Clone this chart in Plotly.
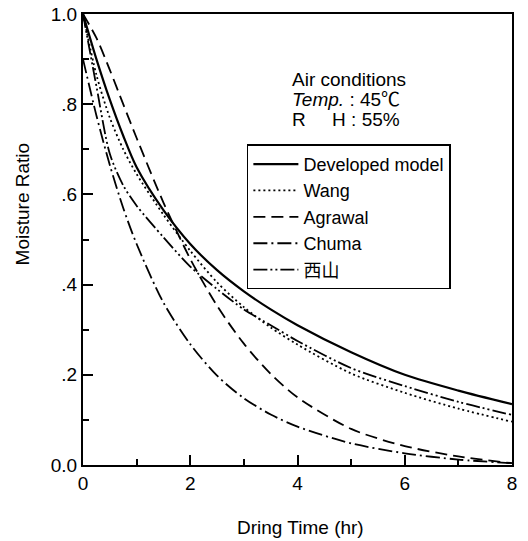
import plotly.graph_objects as go

# ---- data ----
time_hr = [0, 0.25, 0.5, 0.75, 1, 1.5, 2, 2.5, 3, 3.5, 4, 5, 6, 7, 8]
developed = [1.0, 0.90, 0.81, 0.73, 0.66, 0.565, 0.49, 0.432, 0.385, 0.345, 0.31, 0.25, 0.20, 0.165, 0.135]
wang = [1.0, 0.865, 0.77, 0.70, 0.645, 0.555, 0.475, 0.405, 0.35, 0.305, 0.267, 0.203, 0.16, 0.125, 0.096]
agrawal = [1.0, 0.947, 0.876, 0.80, 0.725, 0.582, 0.457, 0.353, 0.269, 0.202, 0.150, 0.080, 0.042, 0.019, 0.004]
chuma = [0.9, 0.775, 0.665, 0.57, 0.49, 0.36, 0.268, 0.198, 0.148, 0.112, 0.085, 0.048, 0.026, 0.012, 0.004]
nishiyama = [1.0, 0.84, 0.69, 0.62, 0.575, 0.505, 0.44, 0.39, 0.345, 0.31, 0.275, 0.215, 0.175, 0.14, 0.111]

series_names = ["Developed model", "Wang", "Agrawal", "Chuma", "西山"]
x_tickvals = [0, 2, 4, 6, 8]
x_ticktext = ["0", "2", "4", "6", "8"]
y_tickvals = [0, 0.2, 0.4, 0.6, 0.8, 1.0]
y_ticktext = ["0.0", ".2", ".4", ".6", ".8", "1.0"]

FONT = "Liberation Sans, Arial, Helvetica, Noto Sans CJK SC, sans-serif"

styles = [
    dict(width=2.2, dash="solid"),
    dict(width=1.8, dash="2px,3px"),
    dict(width=1.8, dash="12px,6px"),
    dict(width=1.8, dash="14px,4px,2px,4px"),
    dict(width=1.8, dash="14px,3px,2px,3px,2px,3px"),
]
values = [developed, wang, agrawal, chuma, nishiyama]

fig = go.Figure()
for name, ys, st in zip(series_names, values, styles):
    fig.add_trace(go.Scatter(
        x=time_hr, y=ys, mode="lines", name=name,
        line=dict(color="black", width=st["width"], dash=st["dash"], shape="spline", smoothing=0.8),
    ))

fig.update_layout(
    width=528, height=541,
    margin=dict(l=83, r=16, t=14, b=76, pad=0),
    paper_bgcolor="white", plot_bgcolor="white",
    font=dict(family=FONT, size=18, color="black"),
    showlegend=True,
    legend=dict(
        x=0.382, y=0.711, xanchor="left", yanchor="top",
        bordercolor="black", borderwidth=1.5, bgcolor="white",
        font=dict(family=FONT, size=18, color="black"),
        itemwidth=45, tracegroupgap=0,
    ),
    xaxis=dict(
        range=[0, 8], showgrid=False, zeroline=False, automargin=False,
        showline=True, linecolor="black", linewidth=2, mirror=True,
        tickvals=x_tickvals, ticktext=x_ticktext,
        ticks="inside", ticklen=10, tickwidth=1.5, tickcolor="black",
        tickfont=dict(family=FONT, size=19),
        minor=dict(dtick=1, ticks="inside", ticklen=6, tickwidth=1.5, tickcolor="black", showgrid=False),
    ),
    yaxis=dict(
        range=[0, 1.0], showgrid=False, zeroline=False, automargin=False,
        showline=True, linecolor="black", linewidth=2, mirror=True,
        tickvals=y_tickvals, ticktext=y_ticktext,
        ticks="inside", ticklen=10, tickwidth=1.5, tickcolor="black",
        tickfont=dict(family=FONT, size=19),
        minor=dict(dtick=0.1, ticks="inside", ticklen=6, tickwidth=1.5, tickcolor="black", showgrid=False),
    ),
)

annotations = [
    dict(text="Dring Time (hr)", xref="paper", yref="paper", x=0.508, y=-0.138,
         xanchor="center", yanchor="middle", showarrow=False, font=dict(size=19)),
    dict(text="Moisture Ratio", xref="paper", yref="paper", x=-0.142, y=0.578,
         xanchor="center", yanchor="middle", textangle=-90, showarrow=False, font=dict(size=19)),
    dict(text="Air conditions", xref="paper", yref="paper", x=0.483, y=0.855,
         xanchor="left", yanchor="middle", showarrow=False, font=dict(size=19)),
    dict(text="<i>Temp.</i> : 45℃", xref="paper", yref="paper", x=0.483, y=0.81,
         xanchor="left", yanchor="middle", showarrow=False, font=dict(size=19)),
    dict(text="R\u00a0\u00a0\u00a0\u00a0\u00a0H : 55%", xref="paper", yref="paper", x=0.483, y=0.767,
         xanchor="left", yanchor="middle", showarrow=False, font=dict(size=19)),
]
fig.update_layout(annotations=annotations)

fig.write_html(
    "out.html",
    config={"displayModeBar": False},
    post_script="document.body.style.margin='0';document.body.style.overflow='hidden';",
)
